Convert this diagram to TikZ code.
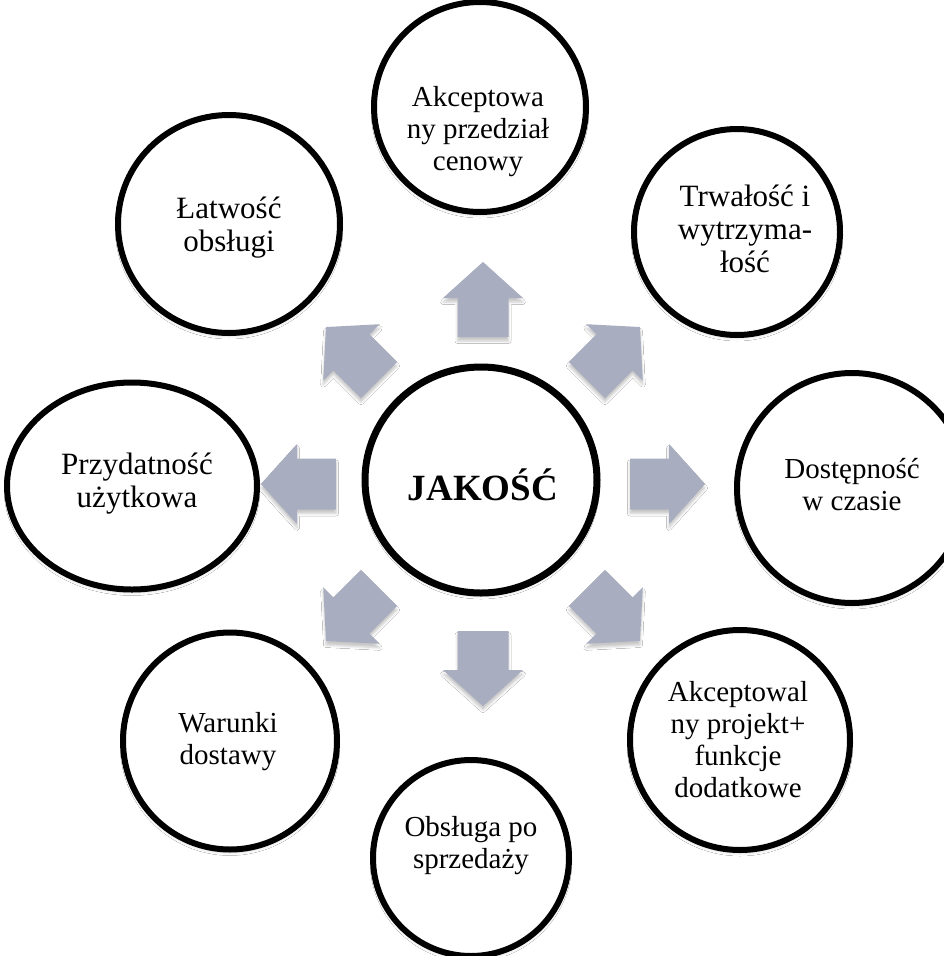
\documentclass[tikz,border=0pt]{standalone}
\usepackage{fontspec}
\setmainfont{Liberation Serif}
\usetikzlibrary{shapes.geometric,shadows.blur}

\definecolor{arrowgray}{RGB}{168,174,191}

\tikzset{
  bubble/.style={draw=black, line width=6pt, fill=white, ellipse, inner sep=0pt,
    blur shadow={shadow xshift=0pt, shadow yshift=-3pt, shadow blur radius=3pt, shadow opacity=18}},
  hub/.style={bubble, line width=7pt},
  caption/.style={align=center, inner sep=0pt, font=\fontsize{29}{32}\selectfont},
  bigcaption/.style={caption, font=\fontsize{31}{33}\selectfont},
  hubcaption/.style={inner sep=0pt, font=\fontsize{37}{40}\selectfont\bfseries},
  blockarrow/.style={fill=arrowgray, draw=none,
    blur shadow={shadow xshift=0pt, shadow yshift=-4pt, shadow blur radius=2.5pt, shadow opacity=22}}
}

\begin{document}
\begin{tikzpicture}[x=1pt, y=-1pt]
  \useasboundingbox (0,0) rectangle (943,956);
  \fill[white] (0,0) rectangle (943,956);

  % radial block arrows around the hub
  \coordinate (hubc) at (483,484);
  \foreach \ang in {0,45,90,135,180,225,270,315}{
    \begin{scope}[shift={(hubc)}, rotate=\ang]
      \path[blockarrow] (147,-25.5) -- (186,-25.5) -- (186,-40) -- (222,0)
        -- (186,40) -- (186,25.5) -- (147,25.5) -- cycle;
    \end{scope}
  }

  % hub
  \node[hub, minimum width=232pt, minimum height=226pt] (jakosc) at (481,480) {};
  \node[hubcaption] (jakosc-t) at (483,485) {JAKOŚĆ};

  % surrounding bubbles
  \node[bubble, minimum width=212pt, minimum height=210pt] (cena) at (480,107) {};
  \node[bubble, minimum width=206pt, minimum height=206pt] (trwalosc) at (737,232) {};
  \node[bubble, minimum width=230pt, minimum height=230pt] (dostepnosc) at (852,488) {};
  \node[bubble, minimum width=220pt, minimum height=220pt] (projekt) at (740,740) {};
  \node[bubble, minimum width=196pt, minimum height=196pt] (obsluga) at (471,858) {};
  \node[bubble, minimum width=214pt, minimum height=217pt] (warunki) at (230,741) {};
  \node[bubble, minimum width=250pt, minimum height=207pt] (przydatnosc) at (132,486) {};
  \node[bubble, minimum width=222pt, minimum height=218pt] (latwosc) at (229,224) {};

  % captions inside the bubbles
  \node[caption] (cena-t) at (478,132) {Akceptowa\\ny przedział\\cenowy};
  \node[bigcaption] (trwalosc-t) at (745,229) {Trwałość i\\wytrzyma-\\łość};
  \node[caption] (dostepnosc-t) at (852,485) {Dostępność\\w czasie};
  \node[caption] (projekt-t) at (738,740) {Akceptowal\\ny projekt+\\funkcje\\dodatkowe};
  \node[caption] (obsluga-t) at (471,846) {Obsługa po\\sprzedaży};
  \node[caption] (warunki-t) at (228,742) {Warunki\\dostawy};
  \node[bigcaption] (przydatnosc-t) at (137,484) {Przydatność\\użytkowa};
  \node[bigcaption] (latwosc-t) at (229,228) {Łatwość\\obsługi};
\end{tikzpicture}
\end{document}
